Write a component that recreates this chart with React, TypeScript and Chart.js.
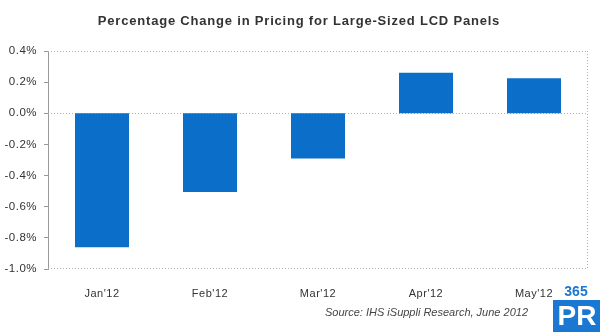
import React, { useEffect, useRef } from "react";
import { Chart, registerables } from "chart.js";

Chart.register(...registerables);

const categories = ["Jan'12", "Feb'12", "Mar'12", "Apr'12", "May'12"];
const changePct = [-0.86, -0.505, -0.29, 0.26, 0.225];
const yMin = -1.0;
const yMax = 0.4;
const yStep = 0.2;
const titleText = "Percentage Change in Pricing for Large-Sized LCD Panels";
const sourceText = "Source: IHS iSuppli Research, June 2012";

const FONT = "'Liberation Sans', Arial, sans-serif";

const decorPlugin = {
  id: "decor",
  beforeDraw(chart: any) {
    (chart.ctx as any).letterSpacing = "0.5px";
  },
  beforeDatasetsDraw(chart: any) {
    const { ctx, chartArea, scales } = chart;
    const y0 = scales.y.getPixelForValue(0);
    ctx.save();
    ctx.strokeStyle = "#b0b0b0";
    ctx.lineWidth = 1;
    ctx.setLineDash([1, 2]);
    ctx.beginPath();
    ctx.moveTo(chartArea.left, chartArea.top + 0.5);
    ctx.lineTo(chartArea.right, chartArea.top + 0.5);
    ctx.moveTo(chartArea.right - 0.5, chartArea.top);
    ctx.lineTo(chartArea.right - 0.5, chartArea.bottom);
    ctx.moveTo(chartArea.left, chartArea.bottom - 0.5);
    ctx.lineTo(chartArea.right, chartArea.bottom - 0.5);
    ctx.moveTo(chartArea.left, Math.round(y0) + 0.5);
    ctx.lineTo(chartArea.right, Math.round(y0) + 0.5);
    ctx.stroke();
    ctx.restore();
  },
  afterDraw(chart: any) {
    const { ctx } = chart;
    ctx.save();
    ctx.fillStyle = "#333333";
    ctx.textAlign = "center";
    ctx.textBaseline = "middle";
    (ctx as any).letterSpacing = "0.8px";
    ctx.font = `bold 13px ${FONT}`;
    ctx.fillText(titleText, 299, 21);
    (ctx as any).letterSpacing = "0px";
    ctx.font = `italic 11px ${FONT}`;
    ctx.textAlign = "right";
    ctx.fillStyle = "#444444";
    ctx.fillText(sourceText, 528, 313);
    // watermark logo
    ctx.fillStyle = "#1a78d2";
    ctx.textAlign = "center";
    ctx.font = `bold 14px ${FONT}`;
    ctx.fillText("365", 576, 292);
    ctx.fillRect(553, 300, 47, 32);
    ctx.fillStyle = "#ffffff";
    ctx.font = `bold 28px ${FONT}`;
    ctx.fillText("PR", 577, 317);
    ctx.restore();
  },
};

export default function App() {
  const ref = useRef<HTMLCanvasElement | null>(null);
  useEffect(() => {
    if (!ref.current) return;
    const chart = new Chart(ref.current, {
      type: "bar",
      data: {
        labels: categories,
        datasets: [
          {
            data: changePct,
            backgroundColor: "#0b6fca",
            borderWidth: 0,
            barPercentage: 0.5,
            categoryPercentage: 1.0,
          },
        ],
      },
      options: {
        responsive: false,
        animation: false,
        layout: { padding: { top: 51, right: 12, left: 0, bottom: 0 } },
        plugins: {
          legend: { display: false },
          title: { display: false },
          tooltip: { enabled: false },
        },
        scales: {
          x: {
            grid: { display: false },
            border: { display: false },
            ticks: {
              color: "#333333",
              font: { family: FONT, size: 11 },
              padding: 10,
              maxRotation: 0,
            },
            afterFit(scale: any) {
              scale.height = 63;
            },
          },
          y: {
            min: yMin,
            max: yMax,
            grid: {
              display: true,
              drawOnChartArea: false,
              drawTicks: true,
              tickLength: 4,
              color: "#999999",
              tickColor: "#999999",
            },
            border: { display: true, color: "#999999", width: 1 },
            ticks: {
              stepSize: yStep,
              color: "#333333",
              font: { family: FONT, size: 11.5 },
              padding: 7,
              callback: (v: any) => {
                const n = Math.abs(Number(v)) < 1e-9 ? 0 : Number(v);
                return n.toFixed(1) + "%";
              },
            },
            afterFit(scale: any) {
              scale.width = 48;
            },
          },
        },
      },
      plugins: [decorPlugin],
    });
    return () => chart.destroy();
  }, []);
  return (
    <div style={{ position: "fixed", left: 0, top: 0, width: 600, height: 332, background: "#fff" }}>
      <canvas ref={ref} width={600} height={332} style={{ width: 600, height: 332, display: "block" }} />
    </div>
  );
}
